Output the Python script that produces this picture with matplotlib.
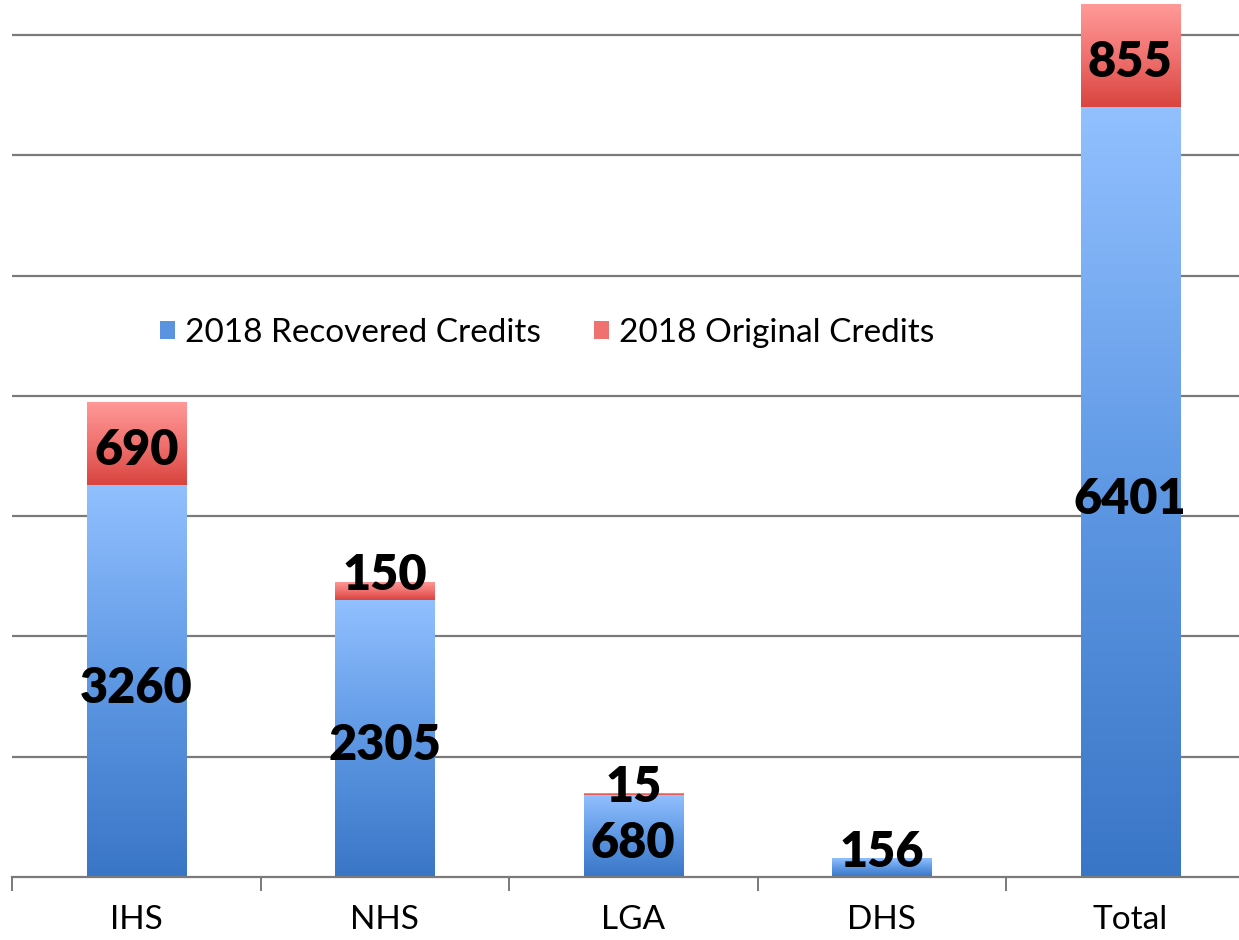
import numpy as np
import matplotlib.pyplot as plt
from matplotlib.colors import LinearSegmentedColormap
from matplotlib.patches import Rectangle

plt.rcParams["font.family"] = ["Lato", "DejaVu Sans"]

categories = ["IHS", "NHS", "LGA", "DHS", "Total"]
recovered = [3260, 2305, 680, 156, 6401]
original = [690, 150, 15, 0, 855]
series_names = ["2018 Recovered Credits", "2018 Original Credits"]

W, H = 1239, 940
fig = plt.figure(figsize=(W / 100, H / 100), dpi=100)
ax = fig.add_axes([12 / W, (H - 877) / H, (W - 12) / W, 877 / H])

slot = 248.5
ax.set_xlim(-0.5, -0.5 + (W - 12) / slot)
ax.set_ylim(0, 877 / 120.3 * 1000)

blue_cm = LinearSegmentedColormap.from_list("b", ["#3a76c6", "#5e98e4", "#92c0ff"])
red_cm = LinearSegmentedColormap.from_list("r", ["#d9443f", "#f07270", "#ff9a98"])
grad = np.linspace(0, 1, 256).reshape(-1, 1)

bw = 0.4


def grad_bar(x, bottom, height, cmap):
    if height <= 0:
        return
    rect = Rectangle((x - bw / 2, bottom), bw, height, facecolor="none",
                     edgecolor="none")
    ax.add_patch(rect)
    im = ax.imshow(grad, cmap=cmap, origin="lower", aspect="auto",
                   extent=(x - bw / 2, x + bw / 2, bottom, bottom + height),
                   zorder=2, interpolation="bicubic")
    im.set_clip_path(rect)


def seg_label(x, bottom, height):
    if height < 300:
        y = bottom + height + 50
    else:
        y = bottom + height / 2 - 60
    ax.text(x, y, f"{height}", ha="center", va="center", fontsize=35,
            fontweight="heavy", color="black", zorder=5)


for i, cat in enumerate(categories):
    grad_bar(i, 0, recovered[i], blue_cm)
    grad_bar(i, recovered[i], original[i], red_cm)

for i, cat in enumerate(categories):
    seg_label(i, 0, recovered[i])
    if original[i] > 0:
        seg_label(i, recovered[i], original[i])

# gridlines
for g in range(1000, 8000, 1000):
    ax.axhline(g, color="#7a7a7a", lw=1.6, zorder=1)

for s in ["left", "right", "top"]:
    ax.spines[s].set_visible(False)
ax.spines["bottom"].set_color("#7a7a7a")
ax.spines["bottom"].set_linewidth(1.6)
ax.spines["bottom"].set_zorder(3)

ax.set_yticks([])
ax.set_xticks(range(len(categories)))
ax.set_xticklabels(categories, fontsize=24)
ax.tick_params(axis="x", which="major", length=0, pad=20)
ax.set_xticks([i - 0.5 for i in range(len(categories))], minor=True)
ax.tick_params(axis="x", which="minor", length=10, width=1.4, color="#7a7a7a")

handles = [Rectangle((0, 0), 1, 1, facecolor="#5a94e0"),
           Rectangle((0, 0), 1, 1, facecolor="#f07270")]
ax.legend(handles, series_names, loc="center", ncol=2, frameon=False,
          fontsize=24, bbox_to_anchor=((547 - 12) / (W - 12), (877 - 333) / 877),
          handlelength=0.45, handleheight=0.45, handletextpad=0.3,
          columnspacing=1.6)

fig.savefig("out.png", dpi=100)
